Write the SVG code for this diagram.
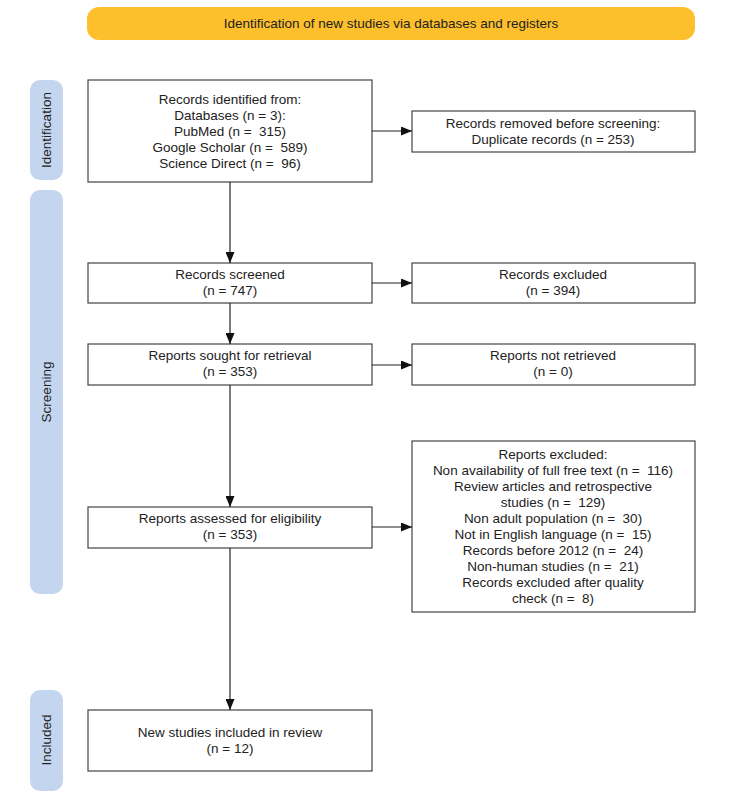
<svg xmlns="http://www.w3.org/2000/svg" width="750" height="803" viewBox="0 0 750 803">
<style>
.box{fill:#fff;stroke:#444;stroke-width:1.2}
.side{fill:#c3d5ef}
.t{font-family:"Liberation Sans",Arial,sans-serif;font-size:13.5px;fill:#222;text-anchor:middle;white-space:pre}
.c{stroke:#222;stroke-width:1.2;fill:none;marker-end:url(#ah)}
</style>
<defs>
<marker id="ah" markerWidth="11" markerHeight="9" refX="11" refY="4.5" orient="auto" markerUnits="userSpaceOnUse">
<path d="M0,0 L11,4.5 L0,9 Z" fill="#111"/>
</marker>
</defs>
<g id="banner">
<rect x="87" y="7" width="608" height="33" rx="12" fill="#fdbf2b"/>
<text class="t" x="391" y="28">Identification of new studies via databases and registers</text>
</g>
<g id="side-identification">
<rect class="side" x="30" y="80" width="33" height="100" rx="10"/>
<text class="t" transform="translate(51,130) rotate(-90)">Identification</text>
</g>
<g id="side-screening">
<rect class="side" x="30" y="190" width="33" height="404" rx="10"/>
<text class="t" transform="translate(51,392) rotate(-90)">Screening</text>
</g>
<g id="side-included">
<rect class="side" x="30" y="690" width="33" height="101" rx="10"/>
<text class="t" transform="translate(51,740) rotate(-90)">Included</text>
</g>
<g id="records-identified" xml:space="preserve">
<rect class="box" x="88" y="80" width="284" height="102"/>
<text class="t" x="230" y="104">Records identified from:</text>
<text class="t" x="230" y="120">Databases (n = 3):</text>
<text class="t" x="230" y="136">PubMed (n =  315)</text>
<text class="t" x="230" y="152">Google Scholar (n =  589)</text>
<text class="t" x="230" y="168">Science Direct (n =  96)</text>
</g>
<g id="records-removed">
<rect class="box" x="412" y="111" width="283" height="41"/>
<text class="t" x="553" y="128">Records removed before screening:</text>
<text class="t" x="553" y="144">Duplicate records (n = 253)</text>
</g>
<g id="records-screened">
<rect class="box" x="88" y="263" width="284" height="40"/>
<text class="t" x="230" y="279">Records screened</text>
<text class="t" x="230" y="295">(n = 747)</text>
</g>
<g id="records-excluded">
<rect class="box" x="412" y="263" width="283" height="40"/>
<text class="t" x="553" y="279">Records excluded</text>
<text class="t" x="553" y="295">(n = 394)</text>
</g>
<g id="reports-sought">
<rect class="box" x="88" y="344" width="284" height="41"/>
<text class="t" x="230" y="360">Reports sought for retrieval</text>
<text class="t" x="230" y="376">(n = 353)</text>
</g>
<g id="reports-not-retrieved">
<rect class="box" x="412" y="344" width="283" height="41"/>
<text class="t" x="553" y="360">Reports not retrieved</text>
<text class="t" x="553" y="376">(n = 0)</text>
</g>
<g id="reports-assessed">
<rect class="box" x="88" y="507" width="284" height="41"/>
<text class="t" x="230" y="523">Reports assessed for eligibility</text>
<text class="t" x="230" y="539">(n = 353)</text>
</g>
<g id="reports-excluded" xml:space="preserve">
<rect class="box" x="412" y="441" width="283" height="171"/>
<text class="t" x="553" y="459">Reports excluded:</text>
<text class="t" x="553" y="475">Non availability of full free text (n =  116)</text>
<text class="t" x="553" y="491">Review articles and retrospective</text>
<text class="t" x="553" y="507">studies (n =  129)</text>
<text class="t" x="553" y="523">Non adult population (n =  30)</text>
<text class="t" x="553" y="539">Not in English language (n =  15)</text>
<text class="t" x="553" y="555">Records before 2012 (n =  24)</text>
<text class="t" x="553" y="571">Non-human studies (n =  21)</text>
<text class="t" x="553" y="587">Records excluded after quality</text>
<text class="t" x="553" y="603">check (n =  8)</text>
</g>
<g id="new-studies">
<rect class="box" x="88" y="710" width="284" height="61"/>
<text class="t" x="230" y="737">New studies included in review</text>
<text class="t" x="230" y="753">(n = 12)</text>
</g>
<g id="connectors">
<line class="c" x1="230" y1="182" x2="230" y2="263"/>
<line class="c" x1="372" y1="131" x2="412" y2="131"/>
<line class="c" x1="372" y1="283" x2="412" y2="283"/>
<line class="c" x1="230" y1="303" x2="230" y2="344"/>
<line class="c" x1="372" y1="365" x2="412" y2="365"/>
<line class="c" x1="230" y1="385" x2="230" y2="507"/>
<line class="c" x1="372" y1="527" x2="412" y2="527"/>
<line class="c" x1="230" y1="548" x2="230" y2="710"/>
</g>
</svg>
